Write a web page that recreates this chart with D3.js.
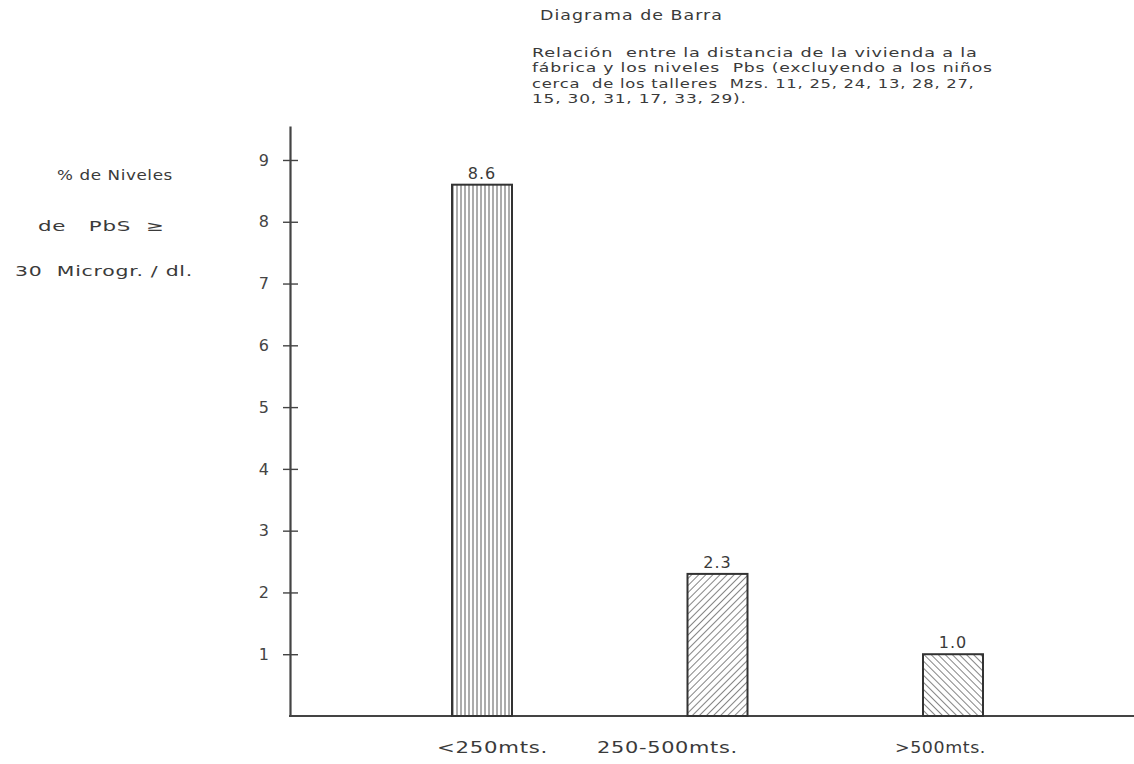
<!DOCTYPE html>
<html>
<head>
<meta charset="utf-8">
<script src="https://cdn.jsdelivr.net/npm/d3@7"></script>
<style>
  body { margin: 0; background: #fff; }
  text { font-family: "DejaVu Sans", sans-serif; fill: #3a3a3a; white-space: pre; }
  .axis text { font-size: 16px; fill: #444; font-family: "DejaVu Sans", sans-serif; }
  .axis path, .axis line { stroke: #444; }
</style>
</head>
<body>
<script>
//Chart data
const categories = ['<250mts.', '250-500mts.', '>500mts.'];
const values = [8.6, 2.3, 1.0];
const valueLabels = ['8.6', '2.3', '1.0'];
const yTicks = [1, 2, 3, 4, 5, 6, 7, 8, 9];
const patterns = ['vert', 'diagUp', 'diagDown'];

const titleText = 'Diagrama de Barra';
const noteLines = [
    'Relación  entre la distancia de la vivienda a la',
    'fábrica y los niveles  Pbs (excluyendo a los niños',
    'cerca  de los talleres  Mzs. 11, 25, 24, 13, 28, 27,',
    '15, 30, 31, 17, 33, 29).'
];
const yLabelLines = ['% de Niveles', 'de   PbS  ≥', '30  Microgr. / dl.'];

const width = 1134;
const height = 764;

//Helper: widen lettering to a target width (hand-lettered look)
const fitWidth = function(sel, xPos, yPos, len) {
    sel.each(function(d, i) {
        const t = d3.select(this);
        const w = this.getComputedTextLength();
        const px = typeof xPos === 'function' ? xPos(d, i) : xPos;
        const py = typeof yPos === 'function' ? yPos(d, i) : yPos;
        const tw = typeof len === 'function' ? len(d, i) : len;
        t.attr('x', 0).attr('y', 0)
            .attr('transform', `translate(${px},${py}) scale(${tw / w},1)`);
    });
};

const svg = d3.select('body').append('svg')
    .attr('width', width)
    .attr('height', height);

//Hatch patterns
const defs = svg.append('defs');

defs.append('pattern')
    .attr('id', 'vert')
    .attr('patternUnits', 'userSpaceOnUse')
    .attr('width', 4).attr('height', 4)
    .append('line')
    .attr('x1', 1).attr('y1', 0).attr('x2', 1).attr('y2', 4)
    .style('stroke', '#888').style('stroke-width', 1.4);

defs.append('pattern')
    .attr('id', 'diagUp')
    .attr('patternUnits', 'userSpaceOnUse')
    .attr('width', 5).attr('height', 5)
    .attr('patternTransform', 'rotate(45)')
    .append('line')
    .attr('x1', 0).attr('y1', 0).attr('x2', 0).attr('y2', 5)
    .style('stroke', '#666').style('stroke-width', 1.6);

defs.append('pattern')
    .attr('id', 'diagDown')
    .attr('patternUnits', 'userSpaceOnUse')
    .attr('width', 5).attr('height', 5)
    .attr('patternTransform', 'rotate(-45)')
    .append('line')
    .attr('x1', 0).attr('y1', 0).attr('x2', 0).attr('y2', 5)
    .style('stroke', '#666').style('stroke-width', 1.6);

//Scales
const x = d3.scalePoint()
    .domain(categories)
    .range([482, 953]);

const y = d3.scaleLinear()
    .domain([0, 9.55])
    .range([716, 126]);

const barWidth = 60;

//Y axis
const yAxis = d3.axisLeft(y)
    .tickValues(yTicks)
    .tickSize(7)
    .tickSizeOuter(0)
    .tickPadding(14)
    .tickFormat(d3.format('d'));

svg.append('g')
    .attr('class', 'axis yAxis')
    .attr('transform', 'translate(290, 0)')
    .call(yAxis)
    .call(g => g.select('.domain').style('stroke-width', 2.2))
    .call(g => g.selectAll('.tick line').attr('x1', 8).style('stroke-width', 1.4));

//X baseline
svg.append('line')
    .attr('x1', 289)
    .attr('x2', width)
    .attr('y1', y(0))
    .attr('y2', y(0))
    .style('stroke', '#444')
    .style('stroke-width', 2.2);

//Bars
svg.selectAll('rect.bar')
    .data(values)
    .enter()
    .append('rect')
    .attr('class', 'bar')
    .attr('x', (d, i) => x(categories[i]) - barWidth / 2)
    .attr('width', barWidth)
    .attr('y', d => y(d))
    .attr('height', d => y(0) - y(d))
    .style('fill', (d, i) => `url(#${patterns[i]})`)
    .style('stroke', '#333')
    .style('stroke-width', 2);

//Value labels
svg.selectAll('text.valueLabel')
    .data(values)
    .enter()
    .append('text')
    .attr('class', 'valueLabel')
    .attr('x', (d, i) => x(categories[i]))
    .attr('y', d => y(d) - 6)
    .style('text-anchor', 'middle')
    .style('font-size', '16px')
    .style('letter-spacing', '1px')
    .text((d, i) => valueLabels[i]);

//Category labels
const catX = [437, 597, 895];
const catW = [111, 141, 91];
svg.selectAll('text.catLabel')
    .data(categories)
    .enter()
    .append('text')
    .attr('class', 'catLabel')
    .style('font-size', '15px')
    .style('letter-spacing', '0.5px')
    .text(d => d)
    .call(fitWidth, (d, i) => catX[i], 753, (d, i) => catW[i]);

//Y label
const yLabX = [57, 38, 15];
const yLabY = [180, 231, 276];
const yLabW = [116, 127, 178];
svg.selectAll('text.yLabel')
    .data(yLabelLines)
    .enter()
    .append('text')
    .attr('class', 'yLabel')
    .style('font-size', '14px')
    .style('letter-spacing', '0.5px')
    .text(d => d)
    .call(fitWidth, (d, i) => yLabX[i], (d, i) => yLabY[i], (d, i) => yLabW[i]);

//Title and note
svg.append('text')
    .style('font-size', '13.5px')
    .style('letter-spacing', '0.8px')
    .text(titleText)
    .call(fitWidth, 540, 20, 183);

const noteW = [446, 461, 443, 215];
svg.selectAll('text.note')
    .data(noteLines)
    .enter()
    .append('text')
    .attr('class', 'note')
    .style('font-size', '13px')
    .style('letter-spacing', '0.6px')
    .text(d => d)
    .call(fitWidth, 532, (d, i) => 57 + i * 15.3, (d, i) => noteW[i]);
</script>
</body>
</html>
